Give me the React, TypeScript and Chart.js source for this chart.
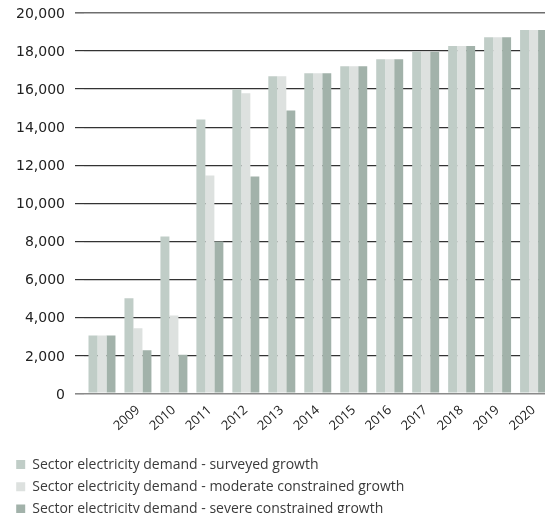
import React, { useEffect, useRef } from "react";
import { Chart, registerables } from "chart.js";

Chart.register(...registerables);

const categories = ["", "2009", "2010", "2011", "2012", "2013", "2014", "2015", "2016", "2017", "2018", "2019", "2020"];
const surveyed = [3050, 5000, 8250, 14400, 15980, 16680, 16830, 17200, 17570, 17960, 18270, 18730, 19100];
const moderate = [3050, 3420, 4100, 11450, 15780, 16680, 16830, 17200, 17570, 17960, 18270, 18730, 19100];
const severe = [3050, 2270, 2030, 7990, 11400, 14880, 16830, 17200, 17570, 17960, 18270, 18730, 19100];
const seriesNames = [
  "Sector electricity demand - surveyed growth",
  "Sector electricity demand - moderate constrained growth",
  "Sector electricity demand - severe constrained growth",
];
const seriesColors = ["#c0cdc7", "#dde1df", "#a2b2aa"];

const gridColors = ["#8a8a8a", "#333", "#333", "#333", "#333", "#333", "#333", "#333", "#333", "#333", "#6e6e6e"];
const gridWidths = [1.6, 1.2, 1.2, 1.2, 1.2, 1.2, 1.2, 1.2, 1.2, 1.2, 1.6];

export default function App() {
  const ref = useRef<HTMLCanvasElement | null>(null);
  useEffect(() => {
    if (!ref.current) return;
    const font = "'Open Sans', 'DejaVu Sans', sans-serif";
    const chart = new Chart(ref.current, {
      type: "bar",
      data: {
        labels: categories,
        datasets: [surveyed, moderate, severe].map((d, i) => ({
          label: seriesNames[i],
          data: d,
          backgroundColor: seriesColors[i],
          borderWidth: 0,
          categoryPercentage: 0.75,
          barPercentage: 1,
        })),
      },
      options: {
        animation: false,
        responsive: true,
        maintainAspectRatio: false,
        layout: { padding: { top: 13, right: 0, left: 0, bottom: 0 } },
        plugins: {
          tooltip: { enabled: false },
          legend: {
            position: "bottom",
            align: "start",
            labels: {
              boxWidth: 9,
              boxHeight: 9,
              padding: 8.2,
              color: "#3a3a3a",
              font: { family: font, size: 14 },
            },
          },
        },
        scales: {
          x: {
            grid: { display: false, drawTicks: false },
            border: { display: false },
            afterFit: (s: any) => {
              s.height = 56;
            },
            ticks: {
              color: "#222",
              font: { family: font, size: 13 },
              minRotation: 42,
              maxRotation: 42,
              padding: 9,
            },
          },
          y: {
            min: 0,
            max: 20000,
            afterFit: (s: any) => {
              s.width = 76;
              s.paddingTop = 0;
            },
            ticks: {
              stepSize: 2000,
              color: "#222",
              padding: 10,
              labelOffset: 1.5,
              font: { family: "'DejaVu Sans', sans-serif", size: 14 },
              callback: (v: any) => Number(v).toLocaleString("en-US"),
            },
            border: { display: false },
            grid: {
              display: true,
              drawOnChartArea: true,
              drawTicks: true,
              tickLength: 9,
              color: gridColors,
              lineWidth: gridWidths,
            },
          },
        },
      },
    });
    return () => chart.destroy();
  }, []);
  return (
    <div style={{ position: "relative", width: 545, height: 526, marginTop: -8 }}>
      <canvas ref={ref} />
    </div>
  );
}
